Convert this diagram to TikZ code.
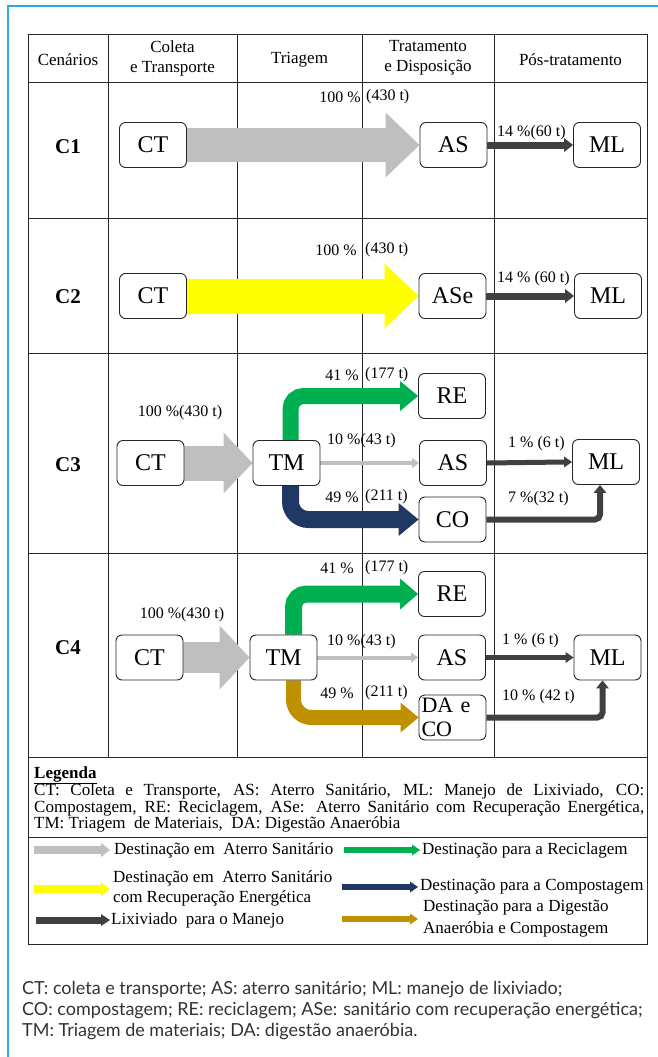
\documentclass[tikz,border=0pt]{standalone}
\usepackage{fontspec}
\setmainfont{Liberation Serif}
\newfontfamily\capfont{Lato}
\usetikzlibrary{calc}
\pgfdeclarelayer{gridlayer}
\pgfdeclarelayer{arrowlayer}
\pgfsetlayers{gridlayer,arrowlayer,main}
\definecolor{frameblue}{RGB}{41,171,226}
\definecolor{agray}{RGB}{191,191,191}
\definecolor{ayellow}{RGB}{255,255,0}
\definecolor{agreen}{RGB}{0,176,80}
\definecolor{anavy}{RGB}{31,56,100}
\definecolor{agold}{RGB}{191,144,0}
\definecolor{adark}{RGB}{64,64,64}
\newcommand\headright[4]{\fill[#1] (#2) -- ([shift={(-#4,#3/2)}]#2) -- ([shift={(-#4,-#3/2)}]#2) -- cycle;}
\newcommand\headup[4]{\fill[#1] (#2) -- ([shift={(#3/2,#4)}]#2) -- ([shift={(-#3/2,#4)}]#2) -- cycle;}
\begin{document}
\begin{tikzpicture}[x=1pt,y=-1pt,
  tline/.style={line width=1pt, black!85},
  hdr/.style={font=\fontsize{17}{20}\selectfont, align=center, inner sep=0pt},
  rowlbl/.style={font=\bfseries\fontsize{21}{21}\selectfont, inner sep=0pt},
  nbox/.style={draw=black!85, line width=0.9pt, rounded corners=6pt, fill=white, minimum width=67pt, minimum height=45pt, inner sep=0pt, font=\fontsize{24}{24}\selectfont},
  lbl/.style={font=\fontsize{16}{16}\selectfont, inner sep=0pt},
  legtxt/.style={font=\fontsize{17}{17}\selectfont, inner sep=0pt, anchor=base west},
  legside/.style={font=\fontsize{17}{20}\selectfont, inner sep=0pt, anchor=west, align=left},
  captxt/.style={font=\capfont\fontsize{18}{20}\selectfont, text=black!80, inner sep=0pt, anchor=base west},
]
\useasboundingbox (0,0) rectangle (658,1057);
\begin{pgfonlayer}{gridlayer}
\fill[white] (0,0) rectangle (658,1057);
\draw[frameblue, line width=2pt] (8,1057) -- (8,6) -- (658,6);
\draw[tline] (28,35) rectangle (647,944);
\foreach \yy in {82,218,353,553,757,837} \draw[tline] (28,\yy) -- (647,\yy);
\foreach \xx in {108,237,362,494} \draw[tline] (\xx,35) -- (\xx,757);
\end{pgfonlayer}

% header
\node[hdr] (h0) at (68,60) {Cenários};
\node[hdr] (h1) at (172.5,58) {Coleta\\e Transporte};
\node[hdr] (h2) at (299.5,60) {Triagem};
\node[hdr] (h3) at (428,58) {Tratamento\\e Disposição};
\node[hdr] (h4) at (570.5,60) {Pós-tratamento};

% row labels
\node[rowlbl] (r1) at (68,147) {C1};
\node[rowlbl] (r2) at (68,297) {C2};
\node[rowlbl] (r3) at (68,465) {C3};
\node[rowlbl] (r4) at (68,648) {C4};

% C1
\node[nbox] (ct1) at (153,145) {CT};
\node[nbox] (as1) at (453.5,145) {AS};
\node[nbox] (ml1) at (607,145) {ML};
\node[lbl, anchor=east] (p1a) at (361,97) {100 \%};
\node[lbl, anchor=west] (p1b) at (366,97) {(430 t)};
\node[lbl, anchor=west] (p1c) at (497,133) {14 \%(60 t)};

% C2
\node[nbox] (ct2) at (153,296) {CT};
\node[nbox] (ase2) at (452.5,296) {ASe};
\node[nbox] (ml2) at (608,296) {ML};
\node[lbl, anchor=east] (p2a) at (357,250) {100 \%};
\node[lbl, anchor=west] (p2b) at (365,250) {(430 t)};
\node[lbl, anchor=west] (p2c) at (497,279) {14 \% (60 t)};

% C3
\node[nbox] (ct3) at (150.5,463) {CT};
\node[nbox] (tm3) at (286.5,463) {TM};
\node[nbox] (re3) at (452,396) {RE};
\node[nbox] (as3) at (453,463) {AS};
\node[nbox] (co3) at (452.5,519.5) {CO};
\node[nbox] (ml3) at (606,462) {ML};
\node[lbl] (p3a) at (180,413) {100 \%(430 t)};
\node[lbl, anchor=east] (p3b) at (359,375) {41 \%};
\node[lbl, anchor=west] (p3c) at (365,375) {(177 t)};
\node[lbl, anchor=west] (p3d) at (327,441) {10 \%(43 t)};
\node[lbl, anchor=east] (p3e) at (359,497) {49 \%};
\node[lbl, anchor=west] (p3f) at (365,497) {(211 t)};
\node[lbl, anchor=west] (p3g) at (508,444) {1 \% (6 t)};
\node[lbl, anchor=west] (p3h) at (508,499) {7 \%(32 t)};

% C4
\node[nbox] (ct4) at (149.5,657.5) {CT};
\node[nbox] (tm4) at (283.5,657.5) {TM};
\node[nbox] (re4) at (452,594) {RE};
\node[nbox] (as4) at (452,657.5) {AS};
\node[nbox] (ml4) at (607.5,657.5) {ML};
\node[nbox, align=left, font=\fontsize{22}{24}\selectfont, text width=62pt] (daco4) at (452.5,717.5) {DA e\\CO};
\node[lbl] (p4a) at (182,615) {100 \%(430 t)};
\node[lbl, anchor=east] (p4b) at (354,568) {41 \%};
\node[lbl, anchor=west] (p4c) at (365,568) {(177 t)};
\node[lbl, anchor=west] (p4d) at (327,642) {10 \%(43 t)};
\node[lbl, anchor=east] (p4e) at (354,693) {49 \%};
\node[lbl, anchor=west] (p4f) at (365,693) {(211 t)};
\node[lbl, anchor=west] (p4g) at (502,641) {1 \% (6 t)};
\node[lbl, anchor=west] (p4h) at (502,697) {10 \% (42 t)};

% legend
\node[legtxt, font=\bfseries\fontsize{17}{17}\selectfont] (lg) at (34,778) {\underline{Legenda}};
\node[legtxt] (lg1) at (34,795) {\makebox[610pt][s]{CT: Coleta e Transporte, AS: Aterro Sanitário, ML: Manejo de Lixiviado, CO:}};
\node[legtxt] (lg2) at (34,812) {\makebox[610pt][s]{Compostagem, RE: Reciclagem, ASe: Aterro Sanitário com Recuperação Energética,}};
\node[legtxt] (lg3) at (34,828) {TM: Triagem\ \ de Materiais,\ \ DA: Digestão Anaeróbia};

\coordinate (la1) at (34,850); \coordinate (lb1) at (110,850);
\coordinate (la2) at (344,850); \coordinate (lb2) at (420,850);
\coordinate (la3) at (34,889); \coordinate (lb3) at (110,889);
\coordinate (la4) at (342,887); \coordinate (lb4) at (418,887);
\coordinate (la5) at (36,920); \coordinate (lb5) at (110,920);
\coordinate (la6) at (342,919); \coordinate (lb6) at (418,919);
\node[legside] (lt1) at (114,850) {Destinação em\ \ Aterro Sanitário};
\node[legside] (lt2) at (422,850) {Destinação para a Reciclagem};
\node[legside] (lt3) at (113,888) {Destinação em\ \ Aterro Sanitário\\com Recuperação Energética};
\node[legside] (lt4) at (420,887) {Destinação para a Compostagem};
\node[legside] (lt5) at (111,920) {Lixiviado\ \ para o Manejo};
\node[legside, font=\fontsize{17}{22}\selectfont] (lt6) at (423,919) {Destinação para a Digestão\\Anaeróbia e Compostagem};

% caption
\node[captxt] (cap1) at (22,994) {CT: coleta e transporte; AS: aterro sanitário; ML: manejo de lixiviado;};
\node[captxt] (cap2) at (22,1015) {CO: compostagem; RE: reciclagem; ASe: sanitário com recuperação energética;};
\node[captxt] (cap3) at (22,1036) {TM: Triagem de materiais; DA: digestão anaeróbia.};

\begin{pgfonlayer}{arrowlayer}
% C1
\draw[agray, line width=34pt] (ct1.east) -- ([shift={(-33.5,0)}]as1.west);
\headright{agray}{as1.west}{65}{34}
\draw[adark, line width=7pt] (as1.east) -- ([shift={(-8.5,0)}]ml1.west);
\headright{adark}{ml1.west}{14}{9}
% C2
\draw[ayellow, line width=35pt] (ct2.east) -- ([shift={(-33.5,0)}]ase2.west);
\headright{ayellow}{ase2.west}{65}{34}
\draw[adark, line width=7pt] (ase2.east) -- ([shift={(-8.5,0)}]ml2.west);
\headright{adark}{ml2.west}{14}{9}
% C3
\draw[agray, line width=35pt] (ct3.east) -- ([shift={(-28.5,0)}]tm3.west);
\headright{agray}{tm3.west}{61}{29}
\draw[agreen, line width=16pt, rounded corners=13pt] ([xshift=4pt]tm3.north) |- ([shift={(-17.5,0)}]re3.west);
\headright{agreen}{re3.west}{30}{18}
\draw[agray, line width=4pt] (tm3.east) -- ([shift={(-6.5,0)}]as3.west);
\headright{agray}{as3.west}{10}{7}
\draw[anavy, line width=17pt, rounded corners=18pt] ([xshift=4pt]tm3.south) |- ([shift={(-19.5,0)}]co3.west);
\headright{anavy}{co3.west}{33}{20}
\draw[adark, line width=5pt] (as3.east) -- ([shift={(-7.5,0)}]ml3.west);
\headright{adark}{ml3.west}{11}{8}
\coordinate (e3) at ([shift={(-6,0)}]ml3.south);
\draw[adark, line width=6pt, rounded corners=5pt] (co3.east) -| ([shift={(0,7.5)}]e3);
\headup{adark}{e3}{13}{8}
% C4
\draw[agray, line width=31pt] (ct4.east) -- ([shift={(-29.5,0)}]tm4.west);
\headright{agray}{tm4.west}{64}{30}
\draw[agreen, line width=17pt, rounded corners=13pt] ([xshift=10pt]tm4.north) |- ([shift={(-17.5,0)}]re4.west);
\headright{agreen}{re4.west}{31}{18}
\draw[agray, line width=4pt] (tm4.east) -- ([shift={(-6.5,0)}]as4.west);
\headright{agray}{as4.west}{10}{7}
\draw[agold, line width=15pt, rounded corners=18pt] ([xshift=10pt]tm4.south) |- ([shift={(-17.5,0)}]daco4.west);
\headright{agold}{daco4.west}{30}{18}
\draw[adark, line width=5pt] (as4.east) -- ([shift={(-7.5,0)}]ml4.west);
\headright{adark}{ml4.west}{11}{8}
\coordinate (e4) at ([shift={(-5,0)}]ml4.south);
\draw[adark, line width=6pt, rounded corners=5pt] (daco4.east) -| ([shift={(0,7.5)}]e4);
\headup{adark}{e4}{13}{8}
% legend arrows
\draw[agray, line width=8pt] (la1) -- ([shift={(-8.5,0)}]lb1);
\headright{agray}{lb1}{14}{9}
\draw[agreen, line width=6pt] (la2) -- ([shift={(-7.5,0)}]lb2);
\headright{agreen}{lb2}{11}{8}
\draw[ayellow, line width=8pt] (la3) -- ([shift={(-8.5,0)}]lb3);
\headright{ayellow}{lb3}{14}{9}
\draw[anavy, line width=6pt] (la4) -- ([shift={(-7.5,0)}]lb4);
\headright{anavy}{lb4}{11}{8}
\draw[adark, line width=7pt] (la5) -- ([shift={(-8.5,0)}]lb5);
\headright{adark}{lb5}{12}{9}
\draw[agold, line width=6pt] (la6) -- ([shift={(-7.5,0)}]lb6);
\headright{agold}{lb6}{11}{8}
\end{pgfonlayer}
\end{tikzpicture}
\end{document}
